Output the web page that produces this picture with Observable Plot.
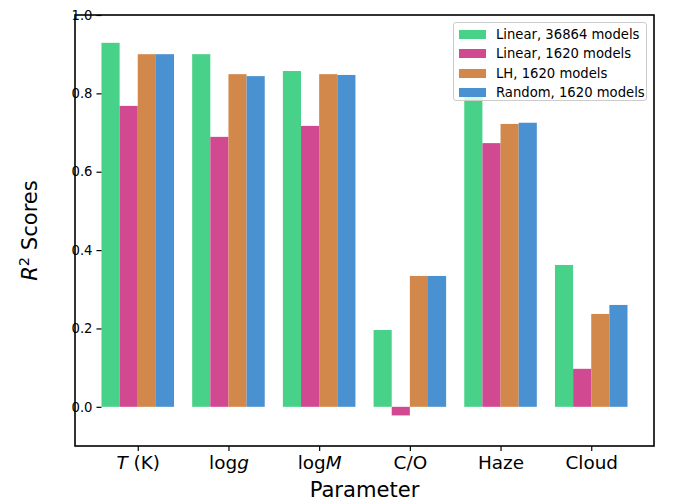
<!DOCTYPE html>
<html>
<head>
<meta charset="utf-8">
<script src="https://cdn.jsdelivr.net/npm/d3@7"></script>
<script src="https://cdn.jsdelivr.net/npm/@observablehq/plot@0.6"></script>
<style>
  body { margin: 0; background: #fff; }
  #wrap { position: relative; width: 673px; height: 502px; font-family: "DejaVu Sans", sans-serif; }
  #legend { position: absolute; left: 453px; top: 22px; width: 194px; height: 79px; box-sizing: border-box;
            border: 1px solid #cccccc; border-radius: 3px; background: rgba(255,255,255,0.8);
            padding: 2px 0 0 5px; font-size: 13.2px; color: #000; }
  .row { display: flex; align-items: center; height: 19.3px; white-space: nowrap; }
  .sw { width: 27px; height: 9px; margin-right: 10px; flex: none; }
</style>
</head>
<body>
<div id="wrap"></div>
<script>
(function() {
// ---- data ----
const categories = ["T (K)", "logg", "logM", "C/O", "Haze", "Cloud"];
const categoryParts = [["T", " (K)"], ["log", "g"], ["log", "M"], ["C/O"], ["Haze"], ["Cloud"]];
const italicParts = ["T", "g", "M"];
const series = ["Linear, 36864 models", "Linear, 1620 models", "LH, 1620 models", "Random, 1620 models"];
const linear36864 = [0.929, 0.900, 0.857, 0.196, 0.793, 0.362];
const linear1620  = [0.768, 0.689, 0.717, -0.022, 0.673, 0.097];
const lh1620      = [0.900, 0.849, 0.849, 0.334, 0.722, 0.237];
const random1620  = [0.900, 0.844, 0.847, 0.334, 0.725, 0.260];
const colors = ["#48d188", "#d14a91", "#d1884a", "#4a91d1"];
const yTicks = [0.0, 0.2, 0.4, 0.6, 0.8, 1.0];

const seriesValues = [linear36864, linear1620, lh1620, random1620];
const rows = [];
categories.forEach((c, i) => series.forEach((s, j) => rows.push({param: c, series: s, value: seriesValues[j][i]})));

const chart = Plot.plot({
  width: 673, height: 502,
  marginLeft: 75, marginRight: 19, marginTop: 15, marginBottom: 56,
  style: {fontFamily: "DejaVu Sans", fontSize: "13.2px", color: "black", background: "white", overflow: "visible"},
  fx: {domain: categories, paddingInner: 0.2, paddingOuter: 0.292, round: false, label: null},
  x: {domain: series, padding: 0, round: false, axis: null},
  y: {domain: [-0.1, 1.0]},
  color: {domain: series, range: colors},
  marks: [
    Plot.barY(rows, {fx: "param", x: "series", y: "value", fill: "series"}),
    Plot.axisY({ticks: yTicks, tickFormat: d3.format(".1f"), tickSize: 5, tickPadding: 4.5, fontSize: 13.2, label: null, strokeWidth: 1.2}),
    Plot.axisFx({anchor: "bottom", tickSize: 5, tickPadding: 4, fontSize: 18.4, label: null, strokeWidth: 1.2})
  ]
});

document.getElementById("wrap").appendChild(chart);

const svg = d3.select(chart);
const ys = chart.scale("y");
const yTop = ys.apply(1.0), yBottom = ys.apply(-0.1);
const xLeft = 75, xRight = 673 - 19;

// italic parts of tick labels
svg.selectAll('g[aria-label="fx-axis tick label"] text').each(function() {
  const t = d3.select(this);
  const idx = categories.indexOf(t.text());
  if (idx < 0) return;
  t.text(null);
  categoryParts[idx].forEach(part => {
    t.append("tspan").attr("font-style", italicParts.includes(part) ? "italic" : null).text(part);
  });
});

// frame
svg.append("rect").attr("x", xLeft).attr("y", yTop).attr("width", xRight - xLeft).attr("height", yBottom - yTop)
  .attr("fill", "none").attr("stroke", "black").attr("stroke-width", 1.6);

// axis labels
svg.append("text").attr("x", (xLeft + xRight) / 2).attr("y", 497).attr("text-anchor", "middle")
  .attr("font-size", 21.1).attr("font-family", "DejaVu Sans").attr("fill", "black").text("Parameter");
const yl = svg.append("text").attr("transform", `translate(37,${(yTop + yBottom) / 2}) rotate(-90)`)
  .attr("text-anchor", "middle").attr("font-size", 21.1).attr("font-family", "DejaVu Sans").attr("fill", "black");
yl.append("tspan").attr("font-style", "italic").text("R");
yl.append("tspan").attr("font-size", 14.5).attr("dy", -8).text("2");
yl.append("tspan").attr("dy", 8).text(" Scores");

// legend
const lg = document.createElement("div");
lg.id = "legend";
series.forEach((s, j) => {
  const r = document.createElement("div"); r.className = "row";
  const sw = document.createElement("span"); sw.className = "sw"; sw.style.background = colors[j];
  const tx = document.createElement("span"); tx.textContent = s;
  r.appendChild(sw); r.appendChild(tx); lg.appendChild(r);
});
document.getElementById("wrap").appendChild(lg);
})();
</script>
</body>
</html>
